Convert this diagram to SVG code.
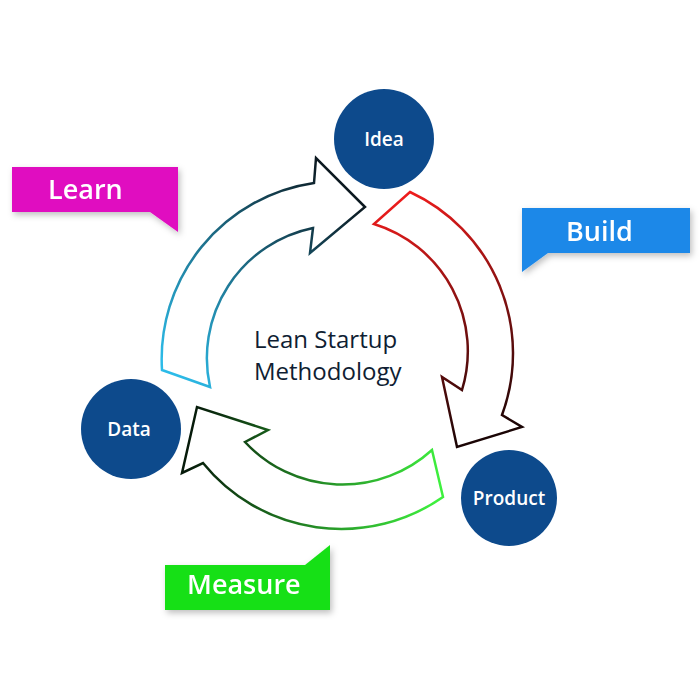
<svg xmlns="http://www.w3.org/2000/svg" width="700" height="700" viewBox="0 0 700 700">
<defs>
<style>
.arrow{fill:#fff;stroke-width:2.5;stroke-linejoin:miter}
.node{fill:#0d4a8c}
.nt{fill:#fff;font-family:"Open Sans","Noto Sans",sans-serif;font-weight:600;font-size:19px;text-anchor:middle}
.lt{fill:#fff;font-family:"Open Sans","Noto Sans",sans-serif;font-weight:600;font-size:27px}
.ct{fill:#0f1e33;font-family:"Open Sans","Noto Sans",sans-serif;font-size:24px}
</style>
<filter id="sh" x="-20%" y="-20%" width="150%" height="160%"><feDropShadow dx="2" dy="3" stdDeviation="3" flood-color="#000" flood-opacity="0.25"/></filter>
<linearGradient id="gL" gradientUnits="userSpaceOnUse" x1="170" y1="370" x2="360" y2="180"><stop offset="0" stop-color="#2cbbe8"/><stop offset="1" stop-color="#0a0f14"/></linearGradient>
<linearGradient id="gB" gradientUnits="userSpaceOnUse" x1="390" y1="200" x2="480" y2="440"><stop offset="0" stop-color="#ee1c1c"/><stop offset="1" stop-color="#1a0505"/></linearGradient>
<linearGradient id="gM" gradientUnits="userSpaceOnUse" x1="440" y1="470" x2="190" y2="440"><stop offset="0" stop-color="#3ef03e"/><stop offset="1" stop-color="#061a0a"/></linearGradient>
</defs>
<rect width="700" height="700" fill="#fff"/>
<g id="connectors">
<path class="arrow" stroke="url(#gL)" d="M162,370 A178,178 0 0 1 314,183 L316,158 L365,207 L310,253 L313,228 A133,133 0 0 0 210,387 Z"/>
<path class="arrow" stroke="url(#gB)" d="M410,192 A178,178 0 0 1 502,415 L522,427 L457,447 L442,377 L462,390 A133,133 0 0 0 374,224 Z"/>
<path class="arrow" stroke="url(#gM)" d="M443,497 A178,178 0 0 1 203,463 L182,473 L197,407 L268,430 L245,442 A133,133 0 0 0 432,450 Z"/>
</g>
<g id="center"><text class="ct" x="254" y="348">Lean Startup</text><text class="ct" x="254" y="380">Methodology</text></g>
<g id="idea"><circle class="node" cx="384" cy="139" r="50"/><text class="nt" x="384" y="146">Idea</text></g>
<g id="data"><circle class="node" cx="131" cy="429" r="50"/><text class="nt" x="129" y="436">Data</text></g>
<g id="product"><circle class="node" cx="509" cy="498" r="48"/><text class="nt" x="509" y="505">Product</text></g>
<g id="learn" filter="url(#sh)"><path fill="#e010c0" d="M12,167 H178 V232 L150,212 H12 Z"/><text class="lt" x="48" y="199">Learn</text></g>
<g id="build" filter="url(#sh)"><path fill="#1e88e8" d="M522,208 H690 V253 H548 L522,272 Z"/><text class="lt" x="566" y="241">Build</text></g>
<g id="measure" filter="url(#sh)"><path fill="#16e016" d="M165,565 H305 L330,545 V610 H165 Z"/><text class="lt" x="187" y="594">Measure</text></g>
</svg>
